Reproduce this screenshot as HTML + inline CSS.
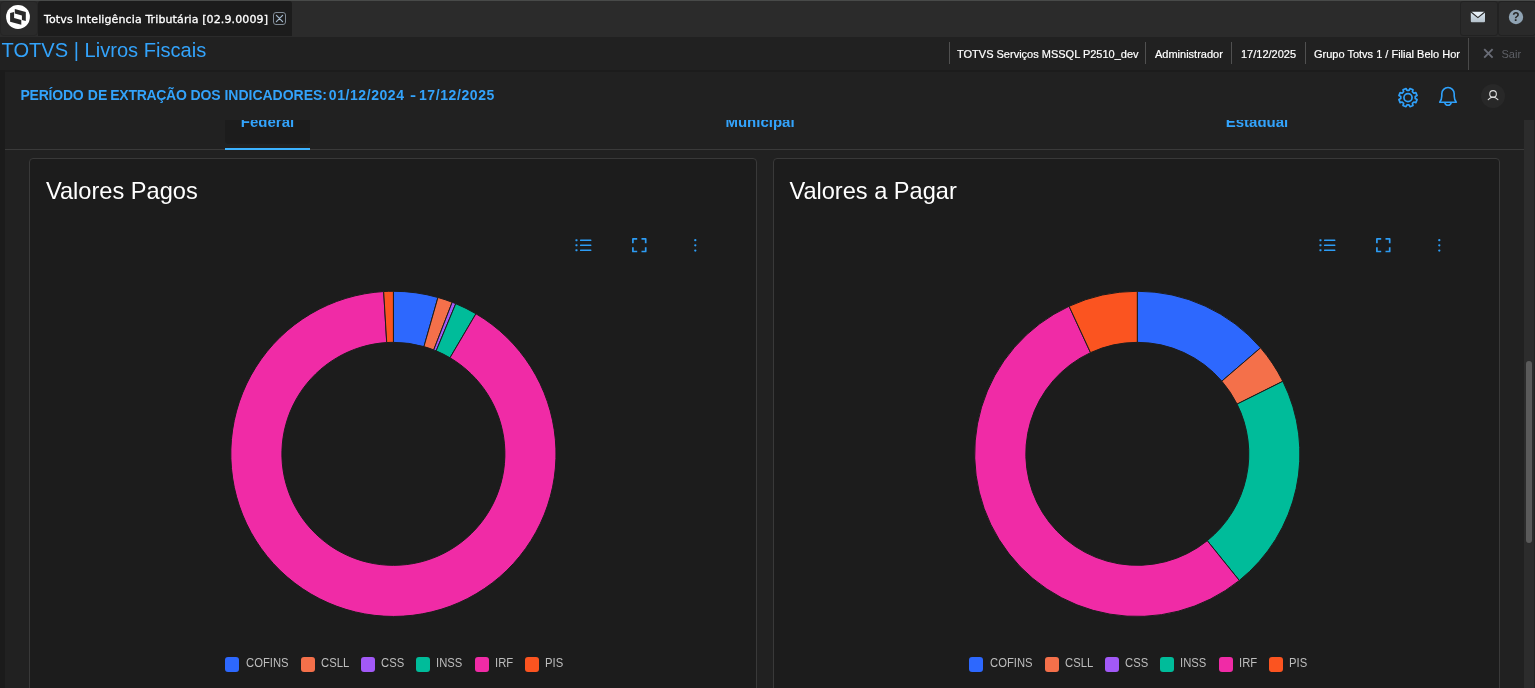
<!DOCTYPE html>
<html lang="pt-BR"><head><meta charset="utf-8"><title>TOTVS | Livros Fiscais</title>
<style>
*{box-sizing:border-box;margin:0;padding:0}
html,body{width:1535px;height:688px;overflow:hidden;background:#212121}
body{position:relative;font-family:"Liberation Sans",Arial,sans-serif;color:#fff}
.abs{position:absolute}
#topbar{position:absolute;left:0;top:0;width:1535px;height:37px;background:#2b2b2b;border-top:1px solid #484a49}
#logo{position:absolute;left:0;top:1px;width:38px;height:35px;background:#2a2a2a;border:1px solid #252525;border-radius:4px}
#tab{position:absolute;left:38px;top:1px;width:254px;height:35px;background:#1c1c1c;border-radius:3px 3px 0 0}
#tabt{position:absolute;left:44px;top:13px;font-family:"DejaVu Sans","Liberation Sans",sans-serif;letter-spacing:.12px;font-size:11px;line-height:14px;white-space:nowrap;color:#fff;-webkit-text-stroke:.3px #fff}
#tabx{position:absolute;left:273px;top:12px;width:13px;height:13px;border:1px solid #808b96;border-radius:3px}
.tbtn{position:absolute;top:1px;height:35px;background:#2a2a2a;border:1px solid #222;border-radius:3px}
#row2{position:absolute;left:0;top:37px;width:1535px;height:33px;background:#212121}
#brand{position:absolute;left:1.500px;top:39px;font-size:20.100px;line-height:22px;color:#33a3fb;white-space:nowrap}
.st{position:absolute;top:47px;font-size:11px;line-height:14px;color:#fff;white-space:nowrap;-webkit-text-stroke:.2px #fff}
.sep{position:absolute;top:42px;width:1px;height:22px;background:#505050}
#sairsep{position:absolute;left:1468px;top:38px;width:1px;height:32px;background:#4a4a4a}
#sair{position:absolute;left:1501.500px;top:47px;font-size:11px;line-height:15px;color:#5e6066}
#strip{position:absolute;left:0;top:70px;width:5px;height:618px;background:#1b1b1b}
#hdrline{position:absolute;left:0;top:70px;width:1535px;height:2px;background:#1c1c1c}
#period{position:absolute;left:0;top:86px;font-size:14px;line-height:18px;font-weight:bold;color:#33a3fb;white-space:nowrap}
#period span{position:absolute;top:0}
#avatar{position:absolute;left:1480.900px;top:83.700px;width:24.200px;height:24.200px;border-radius:50%;background:#282828}
#tabs{position:absolute;left:5px;top:120px;width:1519px;height:30px;overflow:hidden;border-bottom:1px solid #3a3a3a}
.tb{position:absolute;top:-6.800px;font-size:15px;line-height:18px;font-weight:bold;color:#33a3fb;white-space:nowrap;transform:translateX(-50%)}
#tabact{position:absolute;left:220px;top:0;width:85px;height:24px;background:#1c1c1c;border-radius:0 0 4px 4px}
#tabul{position:absolute;left:225px;top:148px;width:85px;height:2px;background:#3cb2ff}
.card{position:absolute;top:158px;height:560px;background:#1c1c1c;border:1px solid #393939;border-radius:4px}
.ct{position:absolute;top:177px;font-size:23.600px;line-height:28px;color:#fff;white-space:nowrap}
.sq{position:absolute;top:657.4px;width:14.2px;height:14.2px;border-radius:3px}
.lg{position:absolute;top:656.3px;transform:scaleX(.915);transform-origin:0 0;font-size:12.300px;line-height:15px;color:#bdbdbd;white-space:nowrap}
#strack{position:absolute;left:1524px;top:120px;width:10px;height:568px;background:#2c2c2c}
#sedge{position:absolute;left:1534px;top:120px;width:1px;height:568px;background:#222}
#sthumb{position:absolute;left:1526px;top:361px;width:6px;height:182px;border-radius:3px;background:#5a5a5a}
</style></head><body>
<div id="topbar"></div>
<div id="logo"></div>
<svg class="abs" style="left:6px;top:5px" width="24" height="24" viewBox="0 0 24 24"><circle cx="12" cy="12" r="11.9" fill="#fff"/>
<path d="M8.800 4 L19.800 7.100 L19.800 16 L15.900 14.900 L15.900 10.600 L8.800 8.600 Z" fill="#2a2a2a"/>
<path d="M4.100 8.100 L8.100 7 L8.100 12.900 L15.300 14.900 L15.300 19.800 L4.100 16.700 Z" fill="#2a2a2a"/></svg>
<div id="tab"></div>
<div id="tabt">Totvs Inteligência Tributária [02.9.0009]</div>
<div id="tabx"></div>
<svg class="abs" style="left:273px;top:12px" width="13" height="13" viewBox="0 0 13 13"><path d="M3.4 3.4L9.6 9.6M9.6 3.4L3.4 9.6" stroke="#a3b8cc" stroke-width="1.250" stroke-linecap="round"/></svg>
<div class="tbtn" style="left:1460px;width:38px"></div>
<div class="tbtn" style="left:1498px;width:38px"></div>
<svg class="abs" style="left:1470px;top:11px" width="16" height="12" viewBox="0 0 16 12"><defs><linearGradient id="mg" x1="0" y1="0" x2="0" y2="1"><stop offset="0" stop-color="#dde9f2"/><stop offset="1" stop-color="#b4c1cb"/></linearGradient></defs><rect x=".8" y=".8" width="14.2" height="10.400" rx="1" fill="url(#mg)"/><path d="M1 1L7.900 6.600L14.800 1" fill="#e6eff6" stroke="#2b2b2b" stroke-width="1.200"/></svg>
<svg class="abs" style="left:1508px;top:9px" width="16" height="16" viewBox="0 0 16 16"><circle cx="8" cy="8" r="7.2" fill="#8fa3b3"/><text x="8" y="12.300" text-anchor="middle" font-family="Liberation Sans,sans-serif" font-weight="bold" font-size="12" fill="#262626">?</text></svg>
<div id="row2"></div>
<div id="brand">TOTVS | Livros Fiscais</div>
<div class="sep" style="left:949px"></div><div class="st" style="left:957px">TOTVS Serviços MSSQL P2510_dev</div>
<div class="sep" style="left:1145px"></div><div class="st" style="left:1155px">Administrador</div>
<div class="sep" style="left:1231px"></div><div class="st" style="left:1241px">17/12/2025</div>
<div class="sep" style="left:1305px"></div><div class="st" style="left:1314px">Grupo Totvs 1 / Filial Belo Hor</div>
<div id="sairsep"></div>
<svg class="abs" style="left:1483px;top:48px" width="11" height="11" viewBox="0 0 11 11"><path d="M1.2 1.2L9.6 9.6M9.6 1.2L1.2 9.6" stroke="#696c76" stroke-width="1.9"/></svg>
<div id="sair">Sair</div>
<div id="hdrline"></div>
<div id="strip"></div>
<div id="period"><span style="left:20.450px;letter-spacing:-.225px">PERÍODO</span> <span style="left:87.800px">DE</span> <span style="left:110.300px;letter-spacing:-.29px">EXTRAÇÃO</span> <span style="left:190.600px;letter-spacing:-.17px">DOS</span> <span style="left:224.500px;letter-spacing:-.02px">INDICADORES:</span> <span style="left:328.800px;letter-spacing:.57px">01/12/2024</span> <span style="left:409.600px;transform:scaleX(1.3);transform-origin:0 0">-</span> <span style="left:419px;letter-spacing:.58px">17/12/2025</span></div>
<svg class="abs" style="left:1395.9px;top:85px" width="24" height="24" viewBox="0 0 24 24" fill="none" stroke="#2fa1fb" stroke-width="1.7" stroke-linejoin="round"><circle cx="12" cy="12.600" r="4.050"/><path d="M13.02 5.37L14.01 3.52L17.00 4.76L16.39 6.77L17.83 8.21L19.84 7.60L21.08 10.59L19.23 11.58L19.23 13.62L21.08 14.61L19.84 17.60L17.83 16.99L16.39 18.43L17.00 20.44L14.01 21.68L13.02 19.83L10.98 19.83L9.99 21.68L7.00 20.44L7.61 18.43L6.17 16.99L4.16 17.60L2.92 14.61L4.77 13.62L4.77 11.58L2.92 10.59L4.16 7.60L6.17 8.21L7.61 6.77L7.00 4.76L9.99 3.52L10.98 5.37Z"/></svg>
<svg class="abs" style="left:1436.7px;top:85px" width="22" height="23" viewBox="0 0 22 23" fill="none" stroke="#2fa1fb" stroke-width="1.6" stroke-linejoin="round" stroke-linecap="round"><path d="M2.700 17.200C4 15.500 4.800 13.500 4.800 11V8.700A6.200 6.200 0 0 1 17.200 8.700V11C17.200 13.500 18 15.500 19.300 17.200Z"/><path d="M7.800 17.800A3.300 3.300 0 0 0 14.200 17.800"/></svg>
<div id="avatar"></div>
<svg class="abs" style="left:1483px;top:86px" width="20" height="20" viewBox="0 0 20 20" fill="none" stroke="#dedede" stroke-width="1.100" stroke-linecap="round"><circle cx="10.050" cy="7.950" r="3.300"/><path d="M5.200 13.700Q10.050 8.500 14.900 13.700"/></svg>
<div id="tabs"><div id="tabact"></div>
<div class="tb" style="left:262.500px">Federal</div><div class="tb" style="left:755px">Municipal</div><div class="tb" style="left:1252px">Estadual</div></div>
<div id="tabul"></div>
<div class="card" style="left:29px;width:728px"></div>
<div class="card" style="left:773px;width:727px"></div>
<div class="ct" style="left:46px">Valores Pagos</div>
<div class="ct" style="left:789.4px">Valores a Pagar</div>
<svg class="abs" style="left:0px;top:0" width="760" height="688" viewBox="0 0 760 688" fill="#2d9cf4">
<g>
<rect x="575.400" y="239.25" width="2.150" height="1.900" rx=".6"/><rect x="580" y="239.4" width="11.4" height="1.7" rx=".5"/>
<rect x="575.400" y="244.25" width="2.150" height="1.900" rx=".6"/><rect x="580" y="244.4" width="11.4" height="1.7" rx=".5"/>
<rect x="575.400" y="249.25" width="2.150" height="1.900" rx=".6"/><rect x="580" y="249.4" width="11.4" height="1.7" rx=".5"/>
</g>
<g fill="none" stroke="#2d9cf4" stroke-width="1.7" stroke-linejoin="round" stroke-linecap="butt">
<path d="M632.9 243.2V238.9H637.2"/><path d="M641.500 238.900H645.700V243.200"/><path d="M645.700 247.200V251.500H641.500"/><path d="M637.2 251.5H632.9V247.2"/>
</g>
<g><circle cx="695.3" cy="240.2" r="1.15"/><circle cx="695.300" cy="245.300" r="1.150"/><circle cx="695.300" cy="250.600" r="1.150"/></g>
</svg>
<svg class="abs" style="left:743.5px;top:0" width="760" height="688" viewBox="0 0 760 688" fill="#2d9cf4">
<g>
<rect x="575.400" y="239.25" width="2.150" height="1.900" rx=".6"/><rect x="580" y="239.4" width="11.4" height="1.7" rx=".5"/>
<rect x="575.400" y="244.25" width="2.150" height="1.900" rx=".6"/><rect x="580" y="244.4" width="11.4" height="1.7" rx=".5"/>
<rect x="575.400" y="249.25" width="2.150" height="1.900" rx=".6"/><rect x="580" y="249.4" width="11.4" height="1.7" rx=".5"/>
</g>
<g fill="none" stroke="#2d9cf4" stroke-width="1.7" stroke-linejoin="round" stroke-linecap="butt">
<path d="M632.9 243.2V238.9H637.2"/><path d="M641.500 238.900H645.700V243.200"/><path d="M645.700 247.200V251.500H641.500"/><path d="M637.2 251.5H632.9V247.2"/>
</g>
<g><circle cx="695.3" cy="240.2" r="1.15"/><circle cx="695.300" cy="245.300" r="1.150"/><circle cx="695.300" cy="250.600" r="1.150"/></g>
</svg>
<svg class="abs" style="left:0;top:0" width="1535" height="688" viewBox="0 0 1535 688">
<path d="M393.40 291.25A162.6 162.6 0 0 1 437.95 297.47L423.95 346.62A111.5 111.5 0 0 0 393.40 342.35Z" fill="#2d68fe" stroke="#1c1c1c" stroke-width="1" stroke-linejoin="round"/>
<path d="M437.95 297.47A162.6 162.6 0 0 1 452.20 302.25L433.72 349.90A111.5 111.5 0 0 0 423.95 346.62Z" fill="#f4704a" stroke="#1c1c1c" stroke-width="1" stroke-linejoin="round"/>
<path d="M452.20 302.25A162.6 162.6 0 0 1 455.76 303.68L436.16 350.87A111.5 111.5 0 0 0 433.72 349.90Z" fill="#a259f7" stroke="#1c1c1c" stroke-width="1" stroke-linejoin="round"/>
<path d="M455.76 303.68A162.6 162.6 0 0 1 475.93 313.75L449.99 357.78A111.5 111.5 0 0 0 436.16 350.87Z" fill="#00bc9a" stroke="#1c1c1c" stroke-width="1" stroke-linejoin="round"/>
<path d="M475.93 313.75A162.6 162.6 0 1 1 383.67 291.54L386.73 342.55A111.5 111.5 0 1 0 449.99 357.78Z" fill="#f02ba6" stroke="#1c1c1c" stroke-width="1" stroke-linejoin="round"/>
<path d="M383.67 291.54A162.6 162.6 0 0 1 393.40 291.25L393.40 342.35A111.5 111.5 0 0 0 386.73 342.55Z" fill="#fb5420" stroke="#1c1c1c" stroke-width="1" stroke-linejoin="round"/>
<path d="M1137.30 291.25A162.6 162.6 0 0 1 1260.57 347.82L1221.83 381.14A111.5 111.5 0 0 0 1137.30 342.35Z" fill="#2d68fe" stroke="#1c1c1c" stroke-width="1" stroke-linejoin="round"/>
<path d="M1260.57 347.82A162.6 162.6 0 0 1 1282.82 381.30L1237.09 404.10A111.5 111.5 0 0 0 1221.83 381.14Z" fill="#f4704a" stroke="#1c1c1c" stroke-width="1" stroke-linejoin="round"/>
<path d="M1282.82 381.30A162.6 162.6 0 0 1 1239.30 580.48L1207.24 540.69A111.5 111.5 0 0 0 1237.09 404.10Z" fill="#00bc9a" stroke="#1c1c1c" stroke-width="1" stroke-linejoin="round"/>
<path d="M1239.30 580.48A162.6 162.6 0 1 1 1069.10 306.25L1090.53 352.63A111.5 111.5 0 1 0 1207.24 540.69Z" fill="#f02ba6" stroke="#1c1c1c" stroke-width="1" stroke-linejoin="round"/>
<path d="M1069.10 306.25A162.6 162.6 0 0 1 1137.30 291.25L1137.30 342.35A111.5 111.5 0 0 0 1090.53 352.63Z" fill="#fb5420" stroke="#1c1c1c" stroke-width="1" stroke-linejoin="round"/>
</svg>
<i class="sq" style="left:225.3px;background:#2d68fe"></i><span class="lg" style="left:245.9px">COFINS</span>
<i class="sq" style="left:300.6px;background:#f4704a"></i><span class="lg" style="left:320.9px">CSLL</span>
<i class="sq" style="left:361.0px;background:#a259f7"></i><span class="lg" style="left:380.8px">CSS</span>
<i class="sq" style="left:416.0px;background:#00bc9a"></i><span class="lg" style="left:435.7px">INSS</span>
<i class="sq" style="left:474.6px;background:#f02ba6"></i><span class="lg" style="left:494.7px">IRF</span>
<i class="sq" style="left:524.6px;background:#fb5420"></i><span class="lg" style="left:544.7px">PIS</span>

<i class="sq" style="left:969.3px;background:#2d68fe"></i><span class="lg" style="left:989.9px">COFINS</span>
<i class="sq" style="left:1044.6px;background:#f4704a"></i><span class="lg" style="left:1064.9px">CSLL</span>
<i class="sq" style="left:1105.0px;background:#a259f7"></i><span class="lg" style="left:1124.8px">CSS</span>
<i class="sq" style="left:1160.0px;background:#00bc9a"></i><span class="lg" style="left:1179.7px">INSS</span>
<i class="sq" style="left:1218.6px;background:#f02ba6"></i><span class="lg" style="left:1238.7px">IRF</span>
<i class="sq" style="left:1268.6px;background:#fb5420"></i><span class="lg" style="left:1288.7px">PIS</span>

<div id="strack"></div><div id="sedge"></div><div id="sthumb"></div>
</body></html>
